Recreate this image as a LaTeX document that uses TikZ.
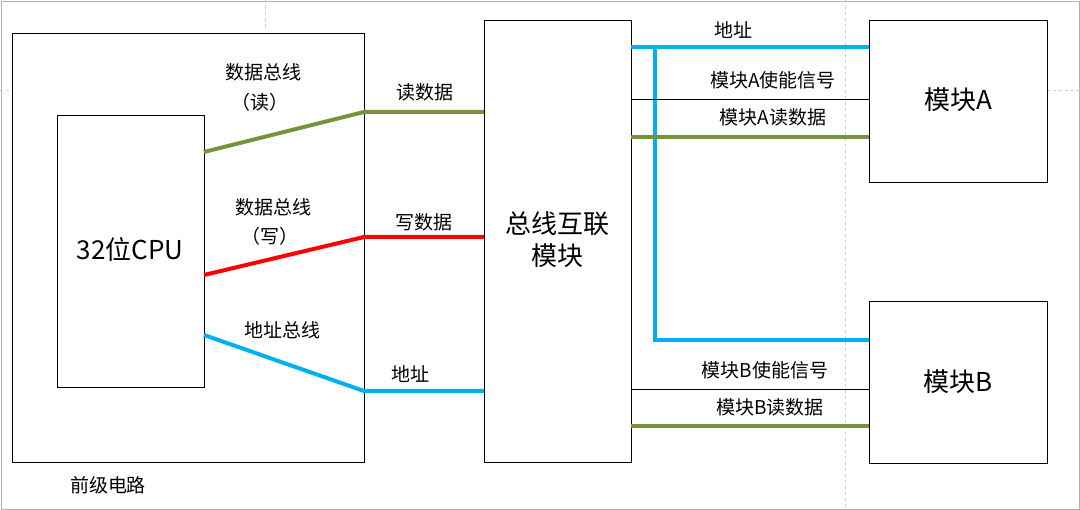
\documentclass[tikz,border=0pt]{standalone}
\usepackage{fontspec}
\setmainfont{Liberation Serif}
\newfontfamily\cjk{Noto Sans CJK SC}
\definecolor{busgreen}{RGB}{118,146,60}
\definecolor{busblue}{RGB}{0,176,240}
\definecolor{busred}{RGB}{255,0,0}
\tikzset{
  blockbox/.style={draw, thin, inner sep=0pt},
  lbl/.style={font=\cjk\fontsize{19}{22}\selectfont, inner sep=1pt},
  bigl/.style={font=\cjk\fontsize{26}{32}\selectfont, align=center},
  wire/.style={line width=4pt},
  guide/.style={gray!40, dashed, thin}
}
\begin{document}
\begin{tikzpicture}[x=1pt,y=-1pt]
  \useasboundingbox (0,0) rectangle (1080,510);
  \draw[gray!60] (1,1) rectangle (1079,509);
  \draw[guide] (265,0) -- (265,30);
  \draw[guide] (845,0) -- (845,510);
  \draw[guide] (0,90) -- (12,90);
  \draw[guide] (1047,90) -- (1080,90);
  % boxes
  \draw[thin] (12,33) rectangle (364,462);
  \node[lbl] (pre) at (108,485) {前级电路};
  \draw[thin] (57,115) rectangle (204,387);
  \node[bigl] (cpu) at (130,250) {32位CPU};
  \draw[thin] (484,20) rectangle (631,462);
  \node[bigl] (bus) at (557,240) {总线互联\\模块};
  \draw[thin] (869,20) rectangle (1047,182);
  \node[bigl] (ma) at (958,100) {模块A};
  \draw[thin] (869,301) rectangle (1047,463);
  \node[bigl] (mb) at (958,382) {模块B};
  % left buses
  \coordinate (rd0) at (204,152); \coordinate (rd1) at (364,112); \coordinate (rd2) at (484,112);
  \coordinate (wr0) at (204,275); \coordinate (wr1) at (364,237); \coordinate (wr2) at (484,237);
  \coordinate (ad0) at (204,335); \coordinate (ad1) at (364,391); \coordinate (ad2) at (484,391);
  \draw[wire, busgreen] (rd0) -- (rd1) -- (rd2);
  \draw[wire, busred] (wr0) -- (wr1) -- (wr2);
  \draw[wire, busblue] (ad0) -- (ad1) -- (ad2);
  \node[lbl] (rdt) at (263,72) {数据总线};
  \node[lbl] (rdp) at (260,102) {（读）};
  \node[lbl] (rdn) at (425,92) {读数据};
  \node[lbl] (wrt) at (273,207) {数据总线};
  \node[lbl] (wrp) at (270,236) {（写）};
  \node[lbl] (wrn) at (424,222) {写数据};
  \node[lbl] (adt) at (282,330) {地址总线};
  \node[lbl] (adn) at (410,374) {地址};
  % right buses
  \coordinate (a0) at (631,47); \coordinate (a1) at (869,47);
  \coordinate (t) at (655,47); \coordinate (b) at (655,340); \coordinate (b1) at (869,340);
  \draw[wire, busblue] (a0) -- (a1);
  \draw[wire, busblue] (t) -- (b) -- (b1);
  \node[lbl] (adr) at (733,30) {地址};
  \coordinate (ea0) at (631,99); \coordinate (ea1) at (869,99);
  \draw[thin] (ea0) -- (ea1);
  \node[lbl] (ean) at (773,80) {模块A使能信号};
  \coordinate (ra0) at (631,137); \coordinate (ra1) at (869,137);
  \draw[wire, busgreen] (ra0) -- (ra1);
  \node[lbl] (ran) at (773,117) {模块A读数据};
  \coordinate (eb0) at (631,389); \coordinate (eb1) at (869,389);
  \draw[thin] (eb0) -- (eb1);
  \node[lbl] (ebn) at (765,370) {模块B使能信号};
  \coordinate (rb0) at (631,426); \coordinate (rb1) at (869,426);
  \draw[wire, busgreen] (rb0) -- (rb1);
  \node[lbl] (rbn) at (770,407) {模块B读数据};
\end{tikzpicture}
\end{document}
